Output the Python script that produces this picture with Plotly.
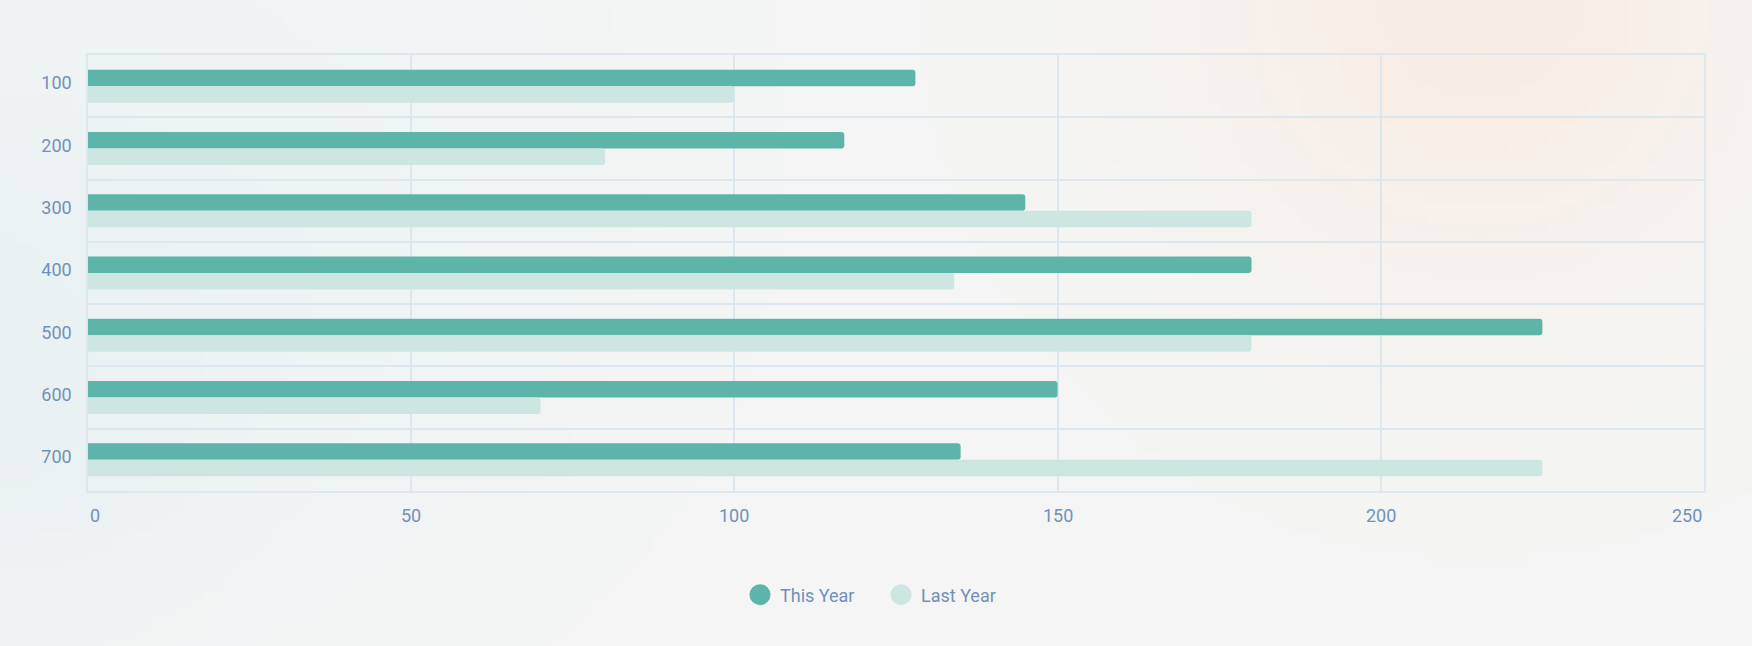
import base64
import math
import struct
import zlib

import plotly.graph_objects as go

categories = ["100", "200", "300", "400", "500", "600", "700"]
this_year = [128, 117, 145, 180, 225, 150, 135]
last_year = [100, 80, 180, 134, 180, 70, 225]
x_ticks = [0, 50, 100, 150, 200, 250]
series_names = ["This Year", "Last Year"]

C_THIS = "#5DB5A9"
C_LAST = "#CDE6E2"
TXT = "#7191B8"
GRID = "#DCE7EF"
FONT = "Roboto"

W, H = 1752, 646
ML, MR, MT, MB = 88, 48, 55, 155


def background_png(w=176, h=65):
    base = (244, 245, 244)
    blobs = [  # (cx, cy, radius, color, strength) in page pixels
        (0, 330, 300, (229, 239, 241), 0.8),
        (320, 250, 260, (235, 243, 245), 0.55),
        (200, 0, 400, (238, 243, 244), 0.5),
        (1480, 0, 300, (250, 234, 224), 0.75),
    ]
    rows = []
    for j in range(h):
        py = (j + 0.5) * H / h
        row = bytearray([0])
        for i in range(w):
            px = (i + 0.5) * W / w
            c = list(base)
            for cx, cy, r, col, s in blobs:
                d2 = ((px - cx) ** 2 + (py - cy) ** 2) / (r * r)
                wgt = s * math.exp(-d2)
                c = [c[k] * (1 - wgt) + col[k] * wgt for k in range(3)]
            row += bytes(int(round(v)) for v in c)
        rows.append(bytes(row))
    raw = b"".join(rows)

    def chunk(tag, data):
        return struct.pack(">I", len(data)) + tag + data + struct.pack(">I", zlib.crc32(tag + data) & 0xFFFFFFFF)

    png = b"\x89PNG\r\n\x1a\n" + chunk(b"IHDR", struct.pack(">IIBBBBB", w, h, 8, 2, 0, 0, 0)) \
        + chunk(b"IDAT", zlib.compress(raw, 9)) + chunk(b"IEND", b"")
    return "data:image/png;base64," + base64.b64encode(png).decode()


fig = go.Figure()
fig.add_trace(go.Bar(y=categories, x=this_year, orientation="h", name=series_names[0],
                     marker=dict(color=C_THIS, line=dict(width=0)), showlegend=False))
fig.add_trace(go.Bar(y=categories, x=last_year, orientation="h", name=series_names[1],
                     marker=dict(color=C_LAST, line=dict(width=0)), showlegend=False))
# legend entries (circle symbols)
for nm, col in zip(series_names, [C_THIS, C_LAST]):
    fig.add_trace(go.Scatter(x=[None], y=[None], mode="markers", name=nm,
                             marker=dict(color=col, size=22, symbol="circle",
                                         line=dict(color=col, width=6))))

annotations = []
for i, v in enumerate(x_ticks):
    anchor = "left" if i == 0 else ("right" if i == len(x_ticks) - 1 else "center")
    annotations.append(dict(x=v, xref="x", y=0, yref="paper", text=str(v), showarrow=False,
                            xanchor=anchor, yanchor="middle", yshift=-24,
                            font=dict(family=FONT, size=18, color=TXT)))

pw, ph = W - ML - MR, H - MT - MB
fig.update_layout(
    width=W, height=H,
    margin=dict(l=ML, r=MR, t=MT, b=MB),
    paper_bgcolor="#F3F5F4", plot_bgcolor="rgba(0,0,0,0)",
    barmode="group", bargap=0.47, bargroupgap=0, barcornerradius=3,
    font=dict(family=FONT, size=18, color=TXT),
    showlegend=True,
    legend=dict(orientation="h", x=0.5 + 5 / W, xanchor="center", xref="container",
                y=(646 - 595) / 646, yanchor="middle", yref="container",
                font=dict(family=FONT, size=18, color=TXT),
                entrywidth=96, entrywidthmode="pixels", bgcolor="rgba(0,0,0,0)"),
    annotations=annotations,
    images=[dict(source=background_png(), xref="paper", yref="paper",
                 x=-ML / pw, y=1 + MT / ph, sizex=W / pw, sizey=H / ph,
                 xanchor="left", yanchor="top", sizing="stretch", layer="below")],
)
fig.update_xaxes(range=[0, 250], tickvals=x_ticks, showticklabels=False, showgrid=True,
                 gridcolor=GRID, gridwidth=1.5, zeroline=False, showline=True,
                 linecolor=GRID, linewidth=1.5, mirror=True, fixedrange=True)
fig.update_yaxes(categoryorder="array", categoryarray=categories, autorange="reversed",
                 tickson="boundaries", ticks="", showgrid=True, gridcolor=GRID, gridwidth=1.5,
                 showline=True, linecolor=GRID, linewidth=1.5, mirror=True,
                 ticklabelstandoff=11, ticklabelshift=3,
                 tickfont=dict(family=FONT, size=18, color=TXT),
                 fixedrange=True)

fig.write_html("out.html")
